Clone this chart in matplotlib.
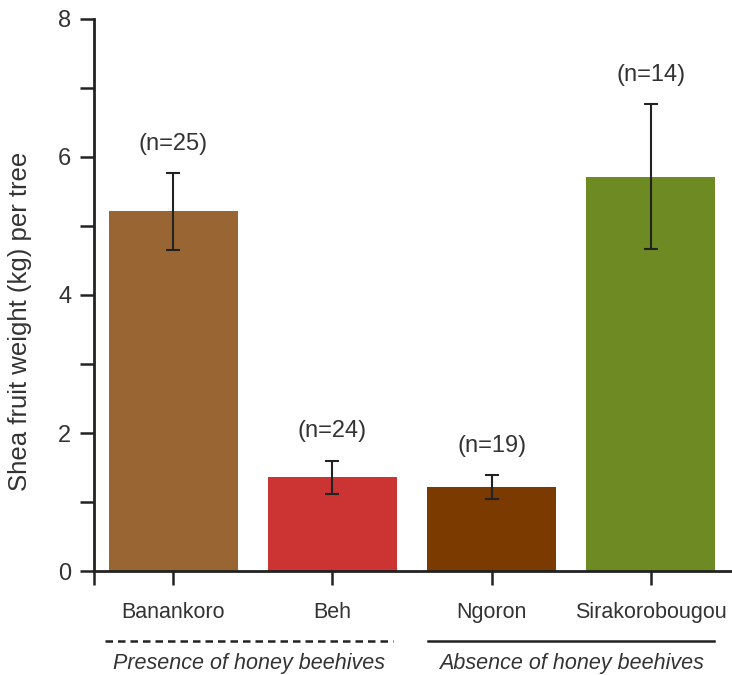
import matplotlib.pyplot as plt
import matplotlib.transforms as mtransforms

plt.rcParams["font.family"] = ["Liberation Sans", "DejaVu Sans"]

sites = ["Banankoro", "Beh", "Ngoron", "Sirakorobougou"]
weights = [5.21, 1.36, 1.22, 5.71]
errors = [0.56, 0.24, 0.17, 1.05]
counts = [25, 24, 19, 14]
colors = ["#996633", "#CC3333", "#7A3A00", "#6E8B23"]

groups = ["Presence of honey beehives", "Absence of honey beehives"]
group_spans = [(-0.43, 1.38), (1.60, 3.40)]
group_styles = ["--", "-"]

TEXT = "#333333"

fig = plt.figure(figsize=(7.32, 6.75), dpi=100)
ax = fig.add_axes([0.128, 0.154, 0.872, 0.818])

x = list(range(len(sites)))
ax.bar(x, weights, width=0.81, color=colors)
ax.errorbar(x, weights, yerr=errors, fmt="none", ecolor="#222222",
            elinewidth=1.5, capsize=5, capthick=1.5)

for xi, w, e, n in zip(x, weights, errors, counts):
    ax.annotate(f"(n={n})", (xi, w + e), xytext=(0, 21),
                textcoords="offset points", ha="center", va="center",
                fontsize=17, color=TEXT)

ax.set_xlim(-0.5, 3.51)
ax.set_ylim(0, 8)
ax.set_yticks([0, 2, 4, 6, 8])
ax.set_yticks([1, 3, 5, 7], minor=True)
ax.set_xticks([-0.5] + x)
ax.set_xticklabels([""] + sites, fontsize=15.5, color=TEXT)

for side in ["top", "right"]:
    ax.spines[side].set_visible(False)
for side in ["left", "bottom"]:
    ax.spines[side].set_linewidth(2)
    ax.spines[side].set_color("#222222")

ax.tick_params(axis="both", which="both", length=10, width=1.8, color="#222222")
ax.tick_params(axis="y", labelsize=17, labelcolor=TEXT, pad=6)
ax.tick_params(axis="x", pad=12)

ax.set_ylabel("Shea fruit weight (kg) per tree", fontsize=18.5, color=TEXT)
ax.yaxis.set_label_coords(-0.096, 0.453)

# group brackets under the site names
trans = mtransforms.blended_transform_factory(ax.transData, ax.transAxes)
for label, (x0, x1), ls in zip(groups, group_spans, group_styles):
    ax.plot([x0, x1], [-0.127, -0.127], transform=trans, color="#222222",
            linewidth=1.8, linestyle=ls, dashes=(3, 2) if ls == "--" else (None, None),
            clip_on=False)
    ax.text((x0 + x1) / 2, -0.167, label, transform=trans, ha="center", va="center",
            fontsize=15.5, style="italic", color=TEXT)

fig.savefig("out.png", dpi=100)
